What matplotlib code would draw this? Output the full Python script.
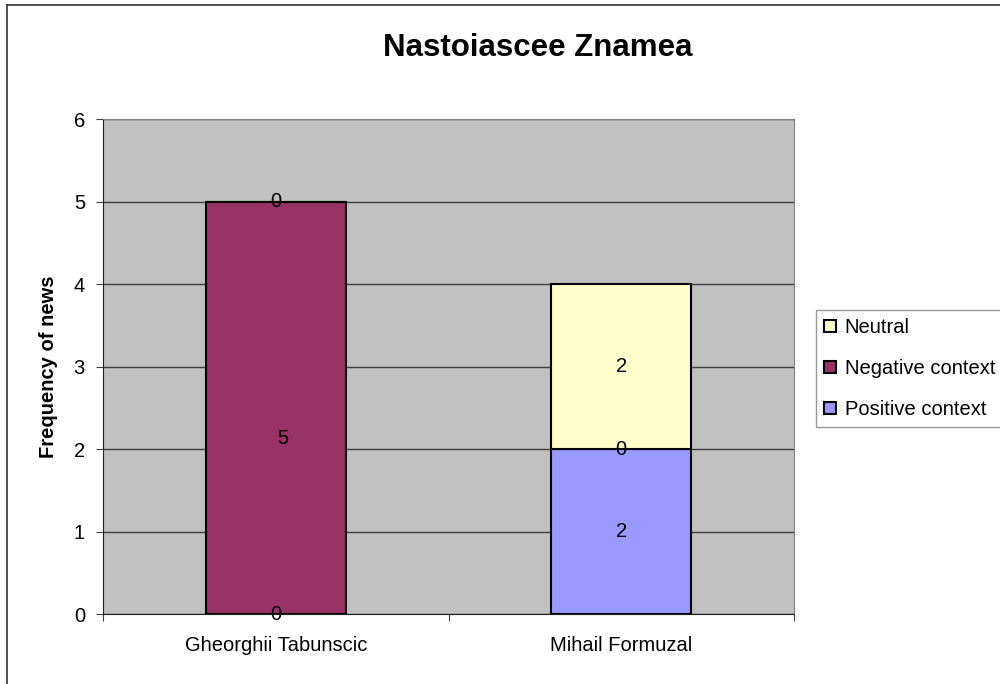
import matplotlib.pyplot as plt
from matplotlib.lines import Line2D
from matplotlib.patches import Patch

# 資料
candidates = ['Gheorghii Tabunscic', 'Mihail Formuzal']
positive = [0, 2]
negative = [5, 0]
neutral = [0, 2]
series_names = ['Positive context', 'Negative context', 'Neutral']
yticks = [0, 1, 2, 3, 4, 5, 6]

colors = ['#9999FF', '#993366', '#FFFFCC']

plt.rcParams['font.family'] = ['Liberation Sans', 'DejaVu Sans']
fs = 14.5

fig = plt.figure(figsize=(10, 6.84), dpi=100)
ax = fig.add_axes([0.103, 0.1023, 0.691, 0.7237])
ax.set_facecolor('#C0C0C0')

x = list(range(len(candidates)))
bottom = [0] * len(candidates)
for vals, name, c in zip([positive, negative, neutral], series_names, colors):
    ax.bar(x, vals, width=0.405, bottom=bottom, color=c, edgecolor='black',
           linewidth=1.5, label=name, zorder=3)
    for i, v in enumerate(vals):
        y = bottom[i] + v / 2
        dx, dy = 0, 0
        # Excel 手動位置的標籤
        if v == 5:
            dx, dy = 5, -22
        ax.annotate(str(v), (x[i], y), xytext=(dx, dy), textcoords='offset points',
                    ha='center', va='center', fontsize=fs, zorder=5)
    bottom = [b + v for b, v in zip(bottom, vals)]

ax.set_xlim(-0.5, 1.5)
ax.set_ylim(0, 6)
ax.set_yticks(yticks)
ax.yaxis.grid(True, color='#404040', linewidth=1, zorder=1)
ax.set_axisbelow(True)

ax.set_xticks([-0.5, 0.5, 1.5])
ax.set_xticklabels([])
ax.set_xticks(x, minor=True)
ax.set_xticklabels(candidates, minor=True)
ax.tick_params(axis='x', which='minor', length=0, pad=16, labelsize=fs)
ax.tick_params(axis='x', which='major', length=5, color='#404040')
ax.tick_params(axis='y', length=5, color='#404040', labelsize=fs, pad=8)

for s in ['top', 'right']:
    ax.spines[s].set_color('#808080')
for s in ['left', 'bottom']:
    ax.spines[s].set_color('#202020')

ax.set_ylabel('Frequency of news', fontsize=fs, fontweight='bold', labelpad=11)
fig.text(0.538, 1 - 48 / 684, 'Nastoiascee Znamea', ha='center', va='center',
         fontsize=22.5, fontweight='bold')

handles = [Patch(facecolor=c, edgecolor='black', linewidth=1.5)
           for c in colors[::-1]]
leg = fig.legend(handles, series_names[::-1], loc='upper left',
                 bbox_to_anchor=(0.816, 1 - 310 / 684), fontsize=fs,
                 frameon=True, fancybox=False, handlelength=0.55, handleheight=0.55,
                 handletextpad=0.45, labelspacing=1.08, borderpad=0.42,
                 borderaxespad=0)
leg.get_frame().set_edgecolor('#808080')
leg.get_frame().set_linewidth(1)

# 外框
fig.add_artist(Line2D([0.007, 1.0], [1 - 5 / 684, 1 - 5 / 684], color='#303030',
                      lw=1.2, transform=fig.transFigure))
fig.add_artist(Line2D([0.007, 0.007], [1 - 5 / 684, 0], color='#303030',
                      lw=1.2, transform=fig.transFigure))

fig.savefig('out.png', dpi=100)
